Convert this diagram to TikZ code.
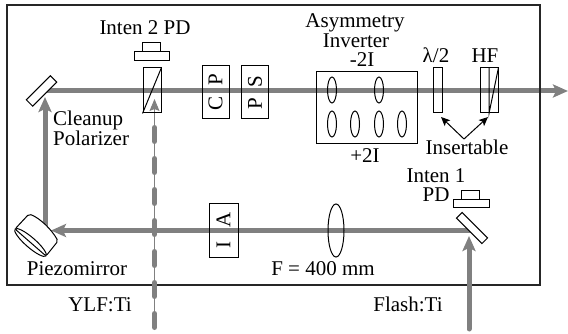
\documentclass[tikz,border=0pt]{standalone}
\usepackage{fontspec}
\setmainfont{Liberation Serif}
\usetikzlibrary{arrows.meta,calc,shapes.geometric}
\definecolor{beamgray}{rgb}{0.5,0.5,0.5}
\definecolor{framegray}{rgb}{0.15,0.15,0.15}
\tikzstyle{optic}=[rectangle,draw=black,line width=1pt,inner sep=0pt,align=center]
\tikzstyle{tagbox}=[optic,rotate=90,minimum width=53pt,minimum height=27pt]
\tikzstyle{lens}=[ellipse,draw=black,line width=1pt,inner sep=0pt,minimum width=9pt,minimum height=26pt]
\tikzstyle{mirror}=[optic,fill=white,minimum width=34pt,minimum height=9pt]
\tikzstyle{caption}=[inner sep=0pt,align=center]
\tikzstyle{beam}=[draw=beamgray,line width=5pt]
\tikzstyle{bigtip}=[-{Stealth[length=15pt,width=13pt,inset=3pt]}]

\begin{document}
\begin{tikzpicture}[x=1pt,y=-1pt,>={Stealth[length=9pt,width=8pt,inset=2pt]},font=\fontsize{21}{19}\selectfont]
    \useasboundingbox (0,0) rectangle (568,334);

    % free ends of the beams
    \coordinate (out) at (568,91);
    \coordinate (yagin) at (154.5,330);
    \coordinate (yagtip) at (154.5,99);
    \coordinate (flashin) at (469,329);
    \coordinate (flashtip) at (469,236);
    \coordinate (pumpend) at (472,230.5);
    \coordinate (pumptip) at (51,230.5);
    \coordinate (turn) at (45,230.5);
    \coordinate (uptip) at (45,97);
    \coordinate (topstart) at (41.5,91);

    % beam in the cavity goes under the frame
    \draw[beam,bigtip] (topstart) -- (out);
    \node[draw=framegray,line width=2pt,inner sep=0pt,minimum width=533pt,minimum height=280pt] (frame) at (273.5,145) {};
    \draw[beam,bigtip] (pumpend) -- (pumptip);
    \draw[beam,bigtip] (turn) -- (uptip);
    \draw[beam,bigtip,line cap=round] (flashin) -- (flashtip);
    \draw[draw=beamgray,line width=1pt,-{Stealth[length=12pt,width=10pt,inset=2pt]}] (yagin) -- (yagtip);
    \draw[beam,line cap=round,dash pattern=on 14pt off 17pt,dash phase=-2.5pt] (yagin) -- ($(yagtip)+(0,14)$);

    % top row
    \node[mirror,rotate=45] (topmirror) at (41.5,91) {};
    \node[optic,minimum width=35pt,minimum height=9pt] (pd2base) at (151.5,56.5) {};
    \node[optic,minimum width=18pt,minimum height=9pt] (pd2head) at (151,47.5) {};
    \node[optic,minimum width=18pt,minimum height=45pt] (cube) at (152,90.5) {};
    \draw[line width=1pt] (cube.south west) -- (cube.north east);
    \node[tagbox] (cp) at (215.5,92.5) {C\hspace{11pt}P};
    \node[tagbox] (ps) at (255,92.5) {P\hspace{11pt}S};

    \node[optic,minimum width=101pt,minimum height=72pt] (inverter) at (366.5,108) {};
    \node[lens] (neg1) at (332,90) {};
    \node[lens] (neg2) at (379,90) {};
    \node[lens] (pos1) at (332,124) {};
    \node[lens] (pos2) at (355,124) {};
    \node[lens] (pos3) at (379,124) {};
    \node[lens] (pos4) at (402,124) {};

    \node[optic,minimum width=9pt,minimum height=45pt] (hwp) at (437.5,90.5) {};
    \node[optic,minimum width=18pt,minimum height=45pt] (hf) at (489,90.5) {};
    \draw[line width=1pt] (hf.north) -- (hf.south) -- (hf.north east);

    % bottom row
    \node[tagbox,minimum height=29pt] (ia) at (223.5,230.5) {I\hspace{14pt}A};
    \node[lens,minimum width=16pt,minimum height=53pt] (focus) at (336,230.5) {};
    \node[mirror,rotate=-45,minimum width=36pt,minimum height=8pt] (flashmirror) at (472,228) {};
    \node[optic,minimum width=36pt,minimum height=8pt] (pd1base) at (471,204) {};
    \node[optic,minimum width=18pt,minimum height=9pt] (pd1head) at (470,195.5) {};

    \draw[line width=1pt,fill=white,rounded corners=2pt] (15,229) -- (29,214)
      .. controls (40,218) and (52,230) .. (58,241) -- (46,256) -- cycle;
    \node[lens,minimum width=41pt,minimum height=10pt,rotate=-41] (piezoface) at (30.5,242.5) {};

    % labels
    \node[caption] (pd2label) at (145,28) {Inten 2 PD};
    \node[caption] (asymlabel) at (355,23) {Asymmetry};
    \node[caption] (invlabel) at (356,41) {Inverter};
    \node[caption] (neglabel) at (362,60) {-2I};
    \node[caption] (poslabel) at (365,156) {+2I};
    \node[caption] (hwplabel) at (436,55) {λ/2};
    \node[caption] (hflabel) at (485,56) {HF};
    \node[caption] (instlabel) at (467,147) {Insertable};
    \node[caption,align=left,anchor=west] (pollabel) at (53,128) {Cleanup \\ Polarizer};
    \node[caption] (piezolabel) at (77,269) {Piezomirror};
    \node[caption] (yaglabel) at (100,305) {YLF:Ti};
    \node[caption] (focuslabel) at (323,269) {F = 400 mm};
    \node[caption] (pd1label) at (436,185.5) {Inten 1 \\ PD};
    \node[caption] (flashlabel) at (408,304) {Flash:Ti};

    \coordinate (apex) at (464,139);
    \coordinate (hwptip) at (441,117);
    \coordinate (hftip) at (488,117);
    \draw[line width=1pt,->] (apex) -- (hwptip);
    \draw[line width=1pt,->] (apex) -- (hftip);
  \end{tikzpicture}
\end{document}
